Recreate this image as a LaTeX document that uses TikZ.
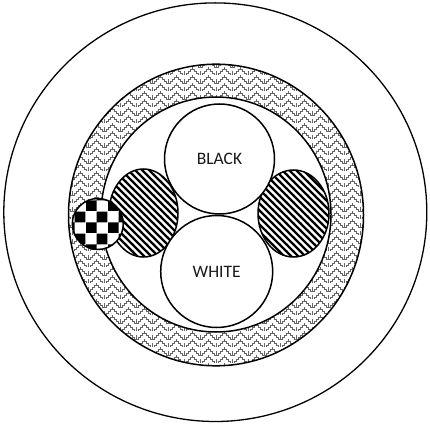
\documentclass[tikz,border=0pt]{standalone}
\usepackage{fontspec}
\setmainfont{Carlito}
\usetikzlibrary{patterns}
\pgfdeclarepatternformonly{diagstripes}{\pgfqpoint{-1pt}{-1pt}}{\pgfqpoint{8pt}{8pt}}{\pgfqpoint{7pt}{7pt}}{%
  \pgfsetlinewidth{2.4pt}%
  \pgfpathmoveto{\pgfqpoint{-1pt}{8pt}}\pgfpathlineto{\pgfqpoint{8pt}{-1pt}}%
  \pgfusepath{stroke}}
\pgfdeclarepatternformonly{bigchecker}{\pgfpointorigin}{\pgfqpoint{21.6pt}{21.6pt}}{\pgfqpoint{21.6pt}{21.6pt}}{%
  \pgfpathrectangle{\pgfpointorigin}{\pgfqpoint{10.8pt}{10.8pt}}%
  \pgfpathrectangle{\pgfqpoint{10.8pt}{10.8pt}}{\pgfqpoint{10.8pt}{10.8pt}}%
  \pgfusepath{fill}}
\pgfdeclarepatternformonly{keyweave}{\pgfqpoint{-1pt}{-1pt}}{\pgfqpoint{17pt}{17pt}}{\pgfqpoint{16pt}{16pt}}{%
  \pgfsetlinewidth{0.8pt}%
  \pgfsetcolor{black!60}%
  % upper V
  \pgfpathmoveto{\pgfqpoint{0pt}{16pt}}%
  \pgfpathlineto{\pgfqpoint{0pt}{14pt}}\pgfpathlineto{\pgfqpoint{2pt}{14pt}}%
  \pgfpathlineto{\pgfqpoint{2pt}{12pt}}\pgfpathlineto{\pgfqpoint{4pt}{12pt}}%
  \pgfpathlineto{\pgfqpoint{4pt}{10pt}}\pgfpathlineto{\pgfqpoint{6pt}{10pt}}%
  \pgfpathlineto{\pgfqpoint{6pt}{8pt}}\pgfpathlineto{\pgfqpoint{10pt}{8pt}}%
  \pgfpathlineto{\pgfqpoint{10pt}{10pt}}\pgfpathlineto{\pgfqpoint{12pt}{10pt}}%
  \pgfpathlineto{\pgfqpoint{12pt}{12pt}}\pgfpathlineto{\pgfqpoint{14pt}{12pt}}%
  \pgfpathlineto{\pgfqpoint{14pt}{14pt}}\pgfpathlineto{\pgfqpoint{16pt}{14pt}}%
  \pgfpathlineto{\pgfqpoint{16pt}{16pt}}%
  % lower V halves
  \pgfpathmoveto{\pgfqpoint{0pt}{8pt}}%
  \pgfpathlineto{\pgfqpoint{0pt}{6pt}}\pgfpathlineto{\pgfqpoint{2pt}{6pt}}%
  \pgfpathlineto{\pgfqpoint{2pt}{4pt}}\pgfpathlineto{\pgfqpoint{4pt}{4pt}}%
  \pgfpathlineto{\pgfqpoint{4pt}{2pt}}\pgfpathlineto{\pgfqpoint{6pt}{2pt}}%
  \pgfpathlineto{\pgfqpoint{6pt}{0pt}}%
  \pgfpathmoveto{\pgfqpoint{10pt}{0pt}}%
  \pgfpathlineto{\pgfqpoint{10pt}{2pt}}\pgfpathlineto{\pgfqpoint{12pt}{2pt}}%
  \pgfpathlineto{\pgfqpoint{12pt}{4pt}}\pgfpathlineto{\pgfqpoint{14pt}{4pt}}%
  \pgfpathlineto{\pgfqpoint{14pt}{6pt}}\pgfpathlineto{\pgfqpoint{16pt}{6pt}}%
  \pgfpathlineto{\pgfqpoint{16pt}{8pt}}%
  % key ticks
  \pgfpathmoveto{\pgfqpoint{8pt}{8pt}}\pgfpathlineto{\pgfqpoint{8pt}{12pt}}%
  \pgfpathmoveto{\pgfqpoint{8pt}{0pt}}\pgfpathlineto{\pgfqpoint{8pt}{4pt}}%
  \pgfusepath{stroke}}
\begin{document}
\begin{tikzpicture}[x=1pt,y=-1pt,
  rim/.style={draw=black,line width=1.5pt},
  label/.style={font=\fontsize{17.5}{20}\selectfont,text=black!90}]
\useasboundingbox (0,0) rectangle (430,427);
% outer jacket
\draw[line width=1.3pt,fill=white] (215.3,212.2) ellipse [x radius=211.5,y radius=209.3];
% braided shield ring
\path[pattern=keyweave,even odd rule] (216,215) ellipse [x radius=147.5,y radius=150.8]
      (216,214.5) ellipse [x radius=115,y radius=117.5];
\draw[rim] (216,215) ellipse [x radius=147.5,y radius=150.8];
\draw[rim,fill=white] (216,214.5) ellipse [x radius=115,y radius=117.5];
% hatched fillers
\draw[rim,pattern=diagstripes] (143.5,213) ellipse [x radius=34.5,y radius=44];
\draw[rim,pattern=diagstripes] (293.5,213.5) ellipse [x radius=35.5,y radius=43.5];
% conductors
\node[rim,circle,fill=white,minimum size=110pt,inner sep=0pt,label] (black) at (219.5,159) {BLACK};
\node[rim,circle,fill=white,minimum size=112pt,inner sep=0pt,label] (white) at (216.7,271.5) {WHITE};
% drain wire
\fill[white] (97.8,224) circle [radius=25.5];
\draw[rim,pattern=bigchecker] (97.8,224) circle [radius=25.5];
\end{tikzpicture}
\end{document}
